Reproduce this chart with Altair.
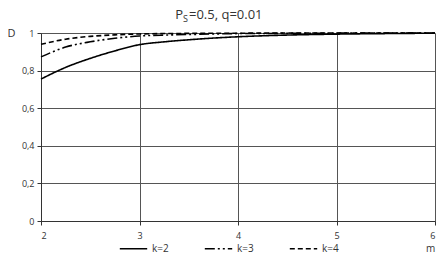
import altair as alt
import pandas as pd

m_vals = [2.0, 2.25, 2.5, 2.75, 3.0, 3.25, 3.5, 3.75, 4.0, 4.5, 5.0, 5.5, 6.0]
d_k2 = [0.755, 0.817, 0.865, 0.905, 0.938, 0.953, 0.964, 0.973, 0.980, 0.989, 0.994, 0.997, 0.999]
d_k3 = [0.873, 0.925, 0.953, 0.972, 0.984, 0.989, 0.992, 0.995, 0.997, 0.998, 0.999, 1.0, 1.0]
d_k4 = [0.940, 0.967, 0.982, 0.990, 0.995, 0.997, 0.998, 0.999, 0.999, 1.0, 1.0, 1.0, 1.0]
series = ["k=2", "k=3", "k=4"]
x_ticks = [2, 3, 4, 5, 6]
y_ticks = [0, 0.2, 0.4, 0.6, 0.8, 1]

rows = []
for name, vals in zip(series, [d_k2, d_k3, d_k4]):
    for m, d in zip(m_vals, vals):
        rows.append({"m": m, "D": d, "k": name})
df = pd.DataFrame(rows)

lines = alt.Chart(df).mark_line(color="black", strokeWidth=1.6, interpolate="monotone").encode(
    x=alt.X("m:Q", scale=alt.Scale(domain=[2, 6], nice=False),
            axis=alt.Axis(values=x_ticks, title="m", titleX=389, titleY=27, titleAlign="center",
                          titleBaseline="middle",
                          titleFontWeight="normal", titleFontSize=10, titleColor="#333",
                          labelPadding=6, grid=True, gridColor="#555", gridOpacity=1,
                          tickSize=4, tickColor="#333", domainColor="#333")),
    y=alt.Y("D:Q", scale=alt.Scale(domain=[0, 1], nice=False),
            axis=alt.Axis(values=y_ticks, title="D", titleAngle=0, titleX=-30, titleY=0,
                          titleBaseline="middle", titleAlign="center",
                          titleFontWeight="normal", titleFontSize=11, titleColor="#333",
                          labelExpr="replace(format(datum.value, ''), '.', ',')",
                          grid=True, gridColor="#555", gridOpacity=1,
                          tickSize=4, tickColor="#333", domainColor="#333", labelPadding=3)),
    strokeDash=alt.StrokeDash("k:N", scale=alt.Scale(domain=series,
                              range=[[1, 0], [10, 3, 2, 3, 2, 3], [5, 3]]),
                              legend=alt.Legend(title=None, orient="none", direction="horizontal",
                                                legendX=78, legendY=201,
                                                symbolType="stroke", symbolStrokeWidth=1.6,
                                                symbolSize=750, symbolStrokeColor="black",
                                                labelFontSize=10, labelColor="#333",
                                                columnPadding=32)),
)

title_p = alt.Chart().mark_text(fontSize=13, align="right", baseline="alphabetic", color="#333").encode(
    x=alt.value(142), y=alt.value(-14), text=alt.value("P"))
title_s = alt.Chart().mark_text(fontSize=9, align="left", baseline="alphabetic", color="#333").encode(
    x=alt.value(142), y=alt.value(-11), text=alt.value("S"))
title_r = alt.Chart().mark_text(fontSize=13, align="left", baseline="alphabetic", color="#333").encode(
    x=alt.value(148), y=alt.value(-14), text=alt.value("=0.5, q=0.01"))

chart = alt.layer(lines, title_p, title_s, title_r).properties(
    width=394, height=188, autosize="none",
    padding={"left": 33, "top": 25, "right": 2, "bottom": 33},
).configure_view(stroke=None).configure_axis(
    labelFontSize=9, labelColor="#333", labelFont="Open Sans", titleFont="Open Sans"
).configure_legend(labelFont="Open Sans").configure_text(font="Open Sans")

chart.save("out.html", embed_options={"renderer": "svg", "actions": False})
